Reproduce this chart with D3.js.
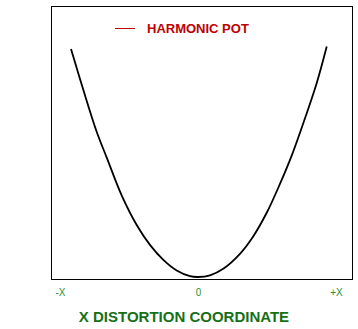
<!DOCTYPE html>
<html><head><meta charset="utf-8">
<script src="https://cdn.jsdelivr.net/npm/d3@7"></script>
<style>body{margin:0;background:#fff;}svg{display:block;}</style>
</head><body>
<script>
// Data (x in units of X, potential in arbitrary units)
const xValues = [-0.920,-0.831,-0.734,-0.659,-0.553,-0.444,-0.348,-0.251,-0.154,-0.058,0,0.087,0.183,0.304,0.401,0.498,0.594,0.679,0.788,0.860,0.933];
const potValues = [0.838,0.688,0.534,0.436,0.300,0.191,0.118,0.063,0.024,0.003,0,0.006,0.030,0.085,0.150,0.236,0.342,0.446,0.602,0.712,0.847];
const tickValues = [-1, 0, 1];
const tickLabels = ["-X", "0", "+X"];
const seriesName = "HARMONIC POT";
const axisTitle = "X DISTORTION COORDINATE";

const W = 358, H = 329;
const box = {left: 51, top: 6, right: 352, bottom: 279};
const svg = d3.select("body").append("svg").attr("width", W).attr("height", H);

const x = d3.scaleLinear().domain([-1.065, 1.116]).range([box.left, box.right]);
const y = d3.scaleLinear().domain([-0.0074, 0.996]).range([box.bottom, box.top]);

svg.append("rect").attr("x", box.left + 0.5).attr("y", box.top + 0.5)
  .attr("width", box.right - box.left).attr("height", box.bottom - box.top)
  .attr("fill", "none").attr("stroke", "#000").attr("stroke-width", 1);

const pts = xValues.map((v, i) => [v, potValues[i]]);
const line = d3.line().x(d => x(d[0])).y(d => y(d[1])).curve(d3.curveCatmullRom);
svg.append("path").attr("d", line(pts)).attr("fill", "none")
  .attr("stroke", "#000").attr("stroke-width", 1.8);

// axis tick labels
const axis = d3.axisBottom(x).tickValues(tickValues).tickFormat((d, i) => tickLabels[i]).tickSize(0).tickPadding(0);
const ag = svg.append("g").attr("transform", `translate(0,${box.bottom + 5})`).call(axis);
ag.select(".domain").remove();
ag.selectAll("text").attr("fill", "#2f8f2f").style("font-family", "Arial, 'Liberation Sans', sans-serif")
  .style("font-size", "10px").attr("dy", "0.71em").attr("y", 5);

svg.append("text").attr("x", 184).attr("y", 322).attr("text-anchor", "middle")
  .attr("fill", "#167016").style("font-family", "Arial, 'Liberation Sans', sans-serif")
  .style("font-weight", "bold").style("font-size", "15px").text(axisTitle);

// legend
svg.append("line").attr("x1", 115).attr("x2", 135).attr("y1", 28.5).attr("y2", 28.5)
  .attr("stroke", "#c00000").attr("stroke-width", 1);
svg.append("text").attr("x", 147).attr("y", 32.7).attr("fill", "#c00000")
  .style("font-family", "Arial, 'Liberation Sans', sans-serif").style("font-weight", "bold")
  .style("font-size", "13px").text(seriesName);
</script>
</body></html>
